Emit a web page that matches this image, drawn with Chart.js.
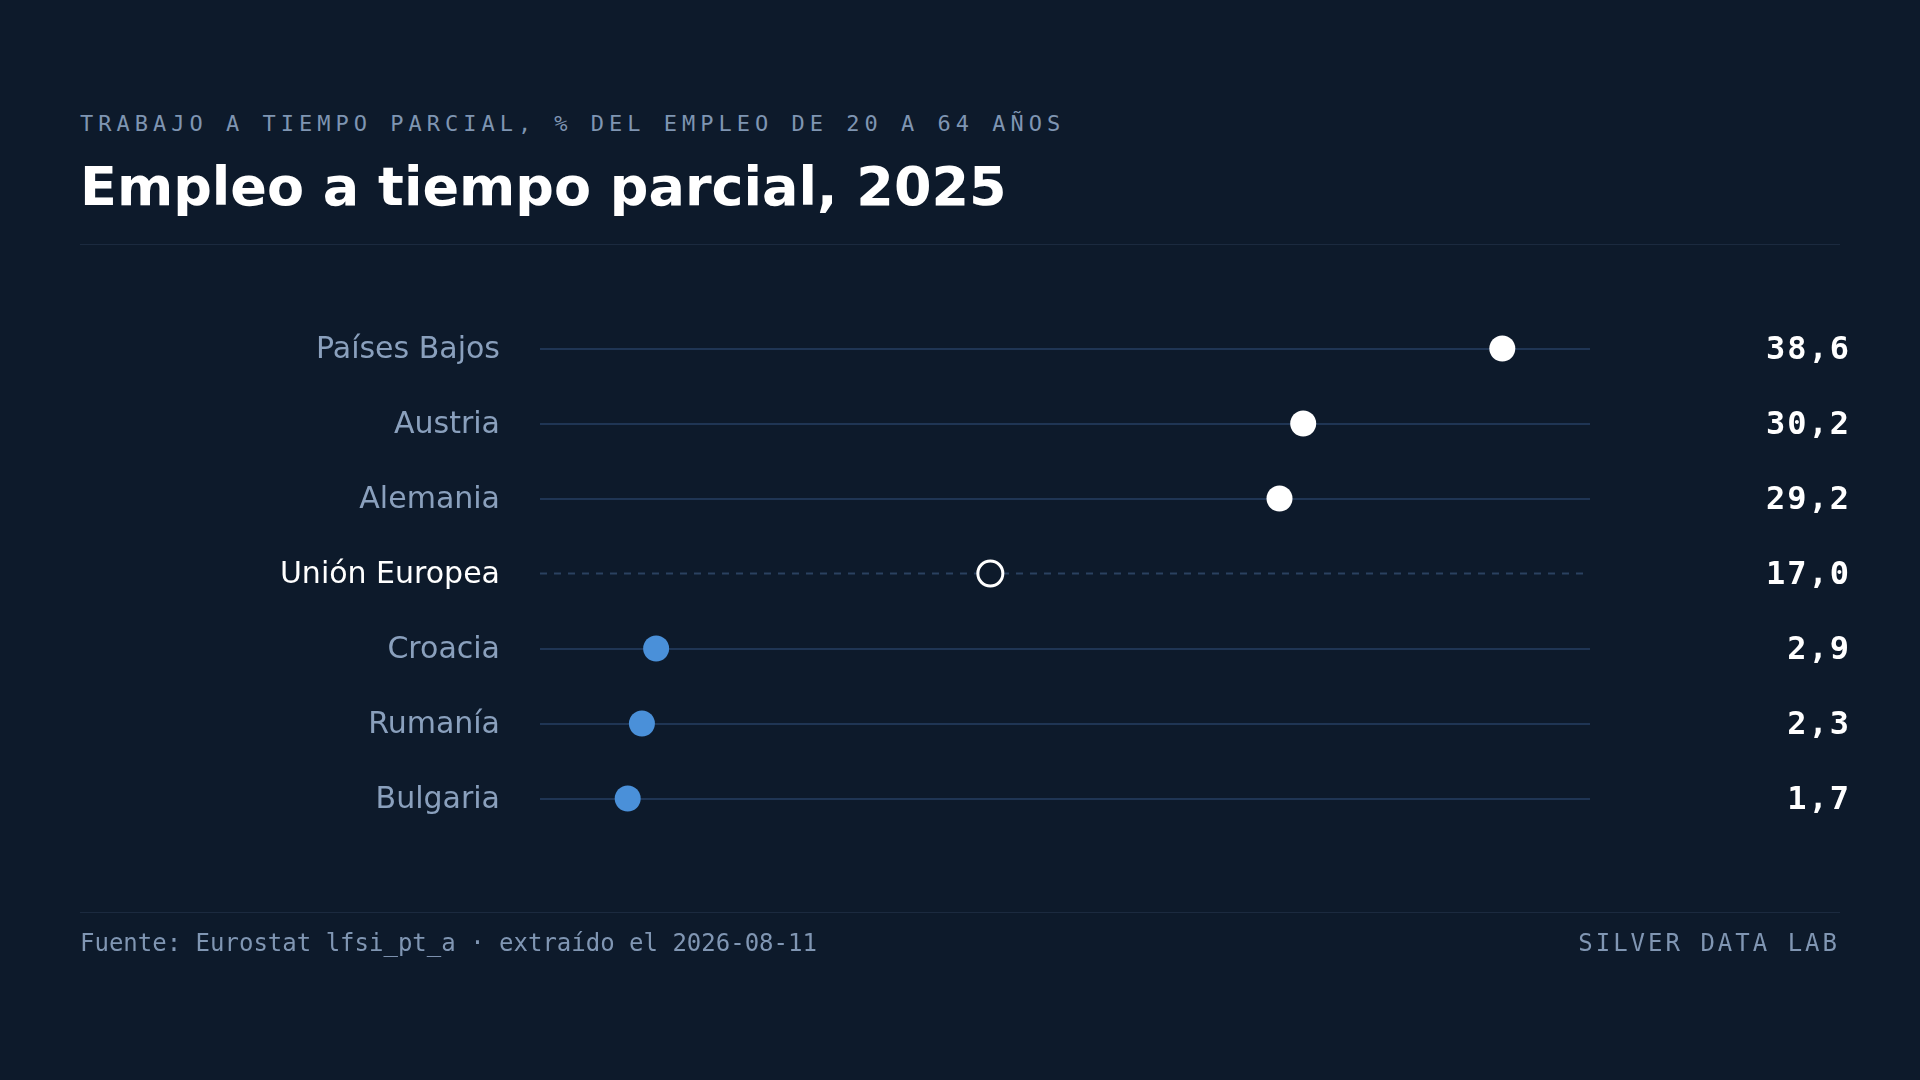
<!DOCTYPE html>
<html lang="es">
<head>
  <meta charset="UTF-8" />
  <title>Empleo a tiempo parcial, 2025</title>
  <script src="https://cdn.jsdelivr.net/npm/chart.js"></script>
  <style>
    html, body {
      margin: 0;
      padding: 0;
    }
    body {
      width: 1920px;
      height: 1080px;
      background: #0d1a2b;
      position: relative;
      overflow: hidden;
      font-family: "DejaVu Sans", sans-serif;
    }
    .kicker {
      position: absolute;
      left: 80px;
      top: 113px;
      font: 22px/22px "DejaVu Sans Mono", monospace;
      letter-spacing: 5px;
      color: #7f95b2;
      white-space: nowrap;
    }
    h1 {
      position: absolute;
      left: 80px;
      top: 160px;
      margin: 0;
      font: bold 54px/54px "DejaVu Sans", sans-serif;
      color: #ffffff;
      white-space: nowrap;
    }
    .rule {
      position: absolute;
      left: 80px;
      width: 1760px;
      height: 1px;
      background: #1b2a3f;
    }
    .foot {
      position: absolute;
      top: 931px;
      font: 24px/24px "DejaVu Sans Mono", monospace;
      color: #8096b3;
      white-space: nowrap;
    }
    #wrap {
      position: absolute;
      left: 0;
      top: 0;
      width: 1920px;
      height: 1080px;
    }
  </style>
</head>
<body>
  <div class="kicker">TRABAJO A TIEMPO PARCIAL, % DEL EMPLEO DE 20 A 64 AÑOS</div>
  <h1>Empleo a tiempo parcial, 2025</h1>
  <div class="rule" style="top:244px"></div>

  <div id="wrap"><canvas id="chart"></canvas></div>

  <div class="rule" style="top:912px"></div>
  <div class="foot" style="left:80px">Fuente: Eurostat lfsi_pt_a · extraído el 2026-08-11</div>
  <div class="foot" style="right:80px; letter-spacing:3px">SILVER DATA LAB</div>

  <script>
    // datos (% del empleo de 20 a 64 años)
    const categories = ["Países Bajos", "Austria", "Alemania", "Unión Europea", "Croacia", "Rumanía", "Bulgaria"];
    const values = [38.6, 30.2, 29.2, 17.0, 2.9, 2.3, 1.7];
    const reference = "Unión Europea";
    const xMin = -2;
    const xMax = 42.3;

    const valueLabels = values.map(v => v.toFixed(1).replace(".", ","));
    const refIndex = categories.indexOf(reference);
    const refValue = values[refIndex];

    const BG = "#0d1a2b";
    const WHITE = "#ffffff";
    const BLUE = "#4a90d9";
    const MUTED = "#8aa0bd";
    const ROW = "#1f3554";
    const ROW_DASH = "#2a4160";

    const fills = values.map((v, i) => i === refIndex ? BG : (v > refValue ? WHITE : BLUE));
    const borders = values.map((v, i) => i === refIndex ? WHITE : fills[i]);
    const radii = values.map((v, i) => i === refIndex ? 12.5 : 13);
    const borderWidths = values.map((v, i) => i === refIndex ? 3 : 0);

    // linea discontinua para la fila de referencia
    const refLine = {
      id: "refLine",
      beforeDatasetsDraw(chart) {
        const { ctx, chartArea } = chart;
        const y = chart.scales.y.getPixelForValue(refIndex);
        ctx.save();
        ctx.strokeStyle = ROW_DASH;
        ctx.lineWidth = 2;
        ctx.setLineDash([7, 7]);
        ctx.beginPath();
        ctx.moveTo(chartArea.left, y);
        ctx.lineTo(chartArea.right, y);
        ctx.stroke();
        ctx.restore();
      },
      // las etiquetas del eje derecho (ticks.z: 1) van despues de los puntos, con espaciado
      afterDatasetsDraw(chart) {
        chart.ctx.letterSpacing = "2px";
      },
      afterDraw(chart) {
        chart.ctx.letterSpacing = "0px";
      }
    };

    const ctx = document.getElementById("chart").getContext("2d");
    new Chart(ctx, {
      type: "line",
      data: {
        labels: categories,
        datasets: [{
          data: values,
          showLine: false,
          pointRadius: radii,
          pointHoverRadius: radii,
          pointBackgroundColor: fills,
          pointBorderColor: borders,
          pointBorderWidth: borderWidths
        }]
      },
      plugins: [refLine],
      options: {
        indexAxis: "y",
        responsive: true,
        maintainAspectRatio: false,
        animation: false,
        events: [],
        layout: { padding: { top: 311, bottom: 244, left: 0, right: 69 } },
        plugins: {
          legend: { display: false },
          tooltip: { enabled: false }
        },
        scales: {
          x: {
            type: "linear",
            display: false,
            min: xMin,
            max: xMax
          },
          y: {
            type: "category",
            position: "left",
            offset: true,
            afterFit: s => { s.width = 540; },
            border: { display: false },
            grid: {
              drawTicks: false,
              lineWidth: 2,
              color: c => c.index === refIndex ? "rgba(0,0,0,0)" : ROW
            },
            ticks: {
              padding: 40,
              labelOffset: 2,
              font: { family: "'DejaVu Sans', sans-serif", size: 30 },
              color: c => c.index === refIndex ? WHITE : MUTED
            }
          },
          y2: {
            type: "category",
            position: "right",
            labels: valueLabels,
            offset: true,
            afterFit: s => { s.width = 261; },
            border: { display: false },
            grid: { display: false, drawTicks: false },
            ticks: {
              z: 1,
              crossAlign: "far",
              padding: 0,
              labelOffset: 2,
              font: { family: "'DejaVu Sans Mono', monospace", size: 32, weight: "bold" },
              color: WHITE
            }
          }
        }
      }
    });
  </script>
</body>
</html>
